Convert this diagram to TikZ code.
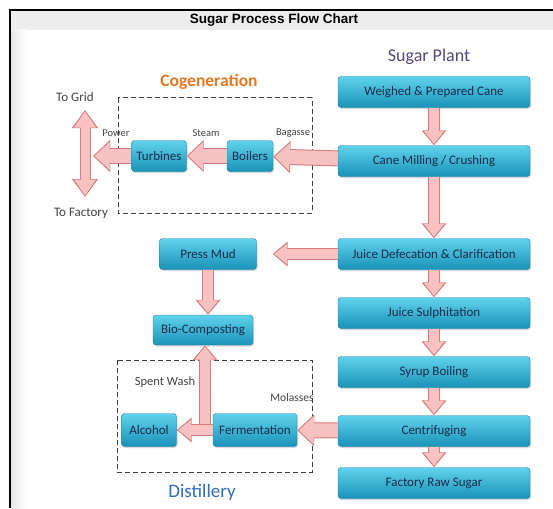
\documentclass[tikz,border=0pt]{standalone}
\usepackage{fontspec}
\setmainfont{Carlito}
\newfontfamily\titlefont{Liberation Sans}
\usetikzlibrary{positioning,arrows.meta,shadows,calc}
\definecolor{boxtop}{RGB}{96,210,236}
\definecolor{boxbot}{RGB}{26,146,184}
\definecolor{boxline}{RGB}{32,128,164}
\definecolor{boxtext}{RGB}{24,44,76}
\definecolor{arrfill}{RGB}{249,194,194}
\definecolor{arredge}{RGB}{214,122,122}
\definecolor{plantcol}{RGB}{86,72,122}
\definecolor{cogencol}{RGB}{234,120,32}
\definecolor{distcol}{RGB}{46,108,190}
\definecolor{labelcol}{RGB}{66,66,66}

\begin{document}
\begin{tikzpicture}[x=1pt,y=-1pt,
  proc/.style={shape=rectangle, rounded corners=3pt, draw=boxline, top color=boxtop, bottom color=boxbot, text=boxtext, font=\fontsize{13}{14}\selectfont, inner sep=0.5pt, minimum height=31pt, drop shadow={opacity=0.3,shadow xshift=1pt,shadow yshift=-1.5pt}},
  main/.style={proc, minimum width=192pt},
  lbl/.style={text=labelcol, font=\fontsize{10.5}{12}\selectfont, inner sep=1pt},
  group/.style={draw=black!75, line width=1pt, dash pattern=on 5pt off 3pt},
  flow/.style={line width=12pt, draw=arredge, -{Triangle[width=24pt,length=15pt]}, postaction={draw=arrfill, line width=10pt, shorten >=1.5pt, -{Triangle[width=20pt,length=13pt]}}},
  bigflow/.style={line width=16pt, draw=arredge, -{Triangle[width=31pt,length=17pt]}, postaction={draw=arrfill, line width=14pt, shorten >=1.5pt, -{Triangle[width=27pt,length=15pt]}}},
  dflow/.style={line width=11pt, draw=arredge, {Triangle[width=25pt,length=18pt]}-{Triangle[width=25pt,length=18pt]}, postaction={draw=arrfill, line width=9pt, shorten >=1.5pt, shorten <=1.5pt, {Triangle[width=21pt,length=16pt]}-{Triangle[width=21pt,length=16pt]}}}]
\useasboundingbox (0,0) rectangle (553,508);
\fill[black!7] (11,11) rectangle (553,30);
\shade[left color=black!9, right color=white] (11,30) rectangle (26,508);
\draw[line width=2pt] (10,508) -- (10,10) -- (553,10);
\node (title) at (274,20) {\titlefont\bfseries\fontsize{13.5}{15}\selectfont Sugar Process Flow Chart};

\node[text=plantcol, font=\fontsize{18}{20}\selectfont] (plant) at (429,57) {Sugar Plant};
\node[main] (weigh) at (434,92) {Weighed \& Prepared Cane};
\node[main] (mill) at (434,161) {Cane Milling / Crushing};
\node[main] (defe) at (434,254) {Juice Defecation \& Clarification};
\node[main] (sulph) at (434,313) {Juice Sulphitation};
\node[main] (syrup) at (434,372) {Syrup Boiling};
\node[main] (centri) at (434,431) {Centrifuging};
\node[main] (raw) at (434,483) {Factory Raw Sugar};

\node[text=cogencol, font=\bfseries\fontsize{17.5}{20}\selectfont] (cogen) at (209,82) {Cogeneration};
\draw[group] (118,98) rectangle (312,213);
\node[proc, minimum width=55pt] (turb) at (159,156) {Turbines};
\node[proc, minimum width=46pt] (boil) at (250,156) {Boilers};
\node[lbl, font=\fontsize{13}{14}\selectfont] (grid) at (75,97) {To Grid};
\node[lbl, font=\fontsize{13}{14}\selectfont] (fact) at (81,213) {To Factory};
\node[lbl] (power) at (116,133) {Power};
\node[lbl] (steam) at (206,133) {Steam};
\node[lbl] (bagasse) at (293,133) {Bagasse};
\coordinate (gridend) at (85,110);
\coordinate (factend) at (85,197);
\coordinate (powerend) at (93,156);

\node[proc, minimum width=97pt] (mud) at (208,254) {Press Mud};
\node[proc, minimum width=100pt, minimum height=30pt] (bio) at (203,330) {Bio-Composting};
\coordinate (mudend) at ([xshift=16pt]mud.east);

\draw[group] (117,360) rectangle (312,472);
\node[proc, minimum width=55pt, minimum height=33pt] (alc) at (149,430) {Alcohol};
\node[proc, minimum width=84pt, minimum height=33pt] (ferm) at (255,430) {Fermentation};
\node[lbl, font=\fontsize{12.5}{14}\selectfont] (spent) at (165,382) {Spent Wash};
\node[lbl, font=\fontsize{11.5}{13}\selectfont] (molasses) at (292,398) {Molasses};
\node[text=distcol, font=\fontsize{19}{21}\selectfont] (distil) at (202,492) {Distillery};

\draw[flow] (weigh) -- (mill);
\draw[flow] (mill) -- (defe);
\draw[flow] (defe) -- (sulph);
\draw[flow] (sulph) -- (syrup);
\draw[flow] (syrup) -- (centri);
\draw[flow] (centri) -- (raw);
\draw[bigflow] (mill) -- (boil);
\draw[bigflow] (boil) -- (turb);
\draw[bigflow] (turb) -- (powerend);
\draw[dflow] (gridend) -- (factend);
\draw[flow] (defe) -- (mudend);
\draw[flow] (mud) -- (mud |- bio.north);
\draw[bigflow] (centri) -- (ferm);
\draw[flow] ([xshift=2pt]bio.south |- ferm.center) -- ([xshift=2pt]bio.south);
\draw[flow] (ferm) -- (alc);
\end{tikzpicture}
\end{document}
